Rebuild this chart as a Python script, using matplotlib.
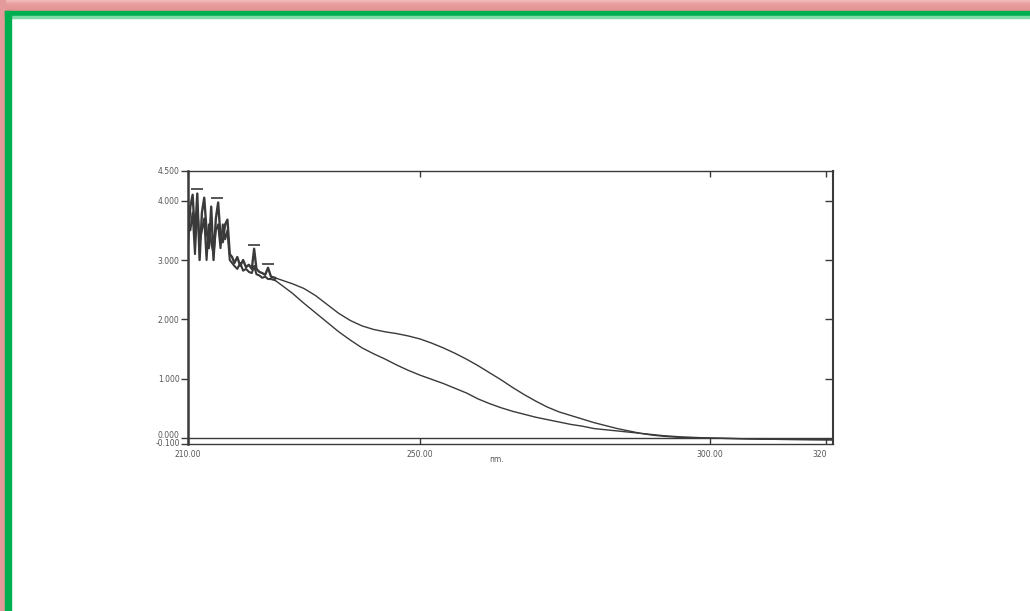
import matplotlib.pyplot as plt
from matplotlib.patches import Rectangle
from matplotlib.transforms import Bbox
import numpy as np

# two absorbance scans, nm vs abs
nm_noisy = [210.0, 210.4, 210.8, 211.2, 211.6, 212.0, 212.4, 212.8, 213.2, 213.6,
            214.0, 214.4, 214.8, 215.2, 215.6, 216.0, 216.4, 216.8, 217.2, 217.6,
            218.0, 218.5, 219.0, 219.5, 220.0, 220.5, 221.0, 221.4, 221.8, 222.3,
            222.8, 223.3, 223.8, 224.3, 225.0]
abs_a_noisy = [3.30, 3.90, 4.10, 3.40, 4.12, 3.00, 3.80, 4.05, 3.50, 3.20,
               3.90, 3.00, 3.70, 3.97, 3.40, 3.30, 3.60, 3.68, 3.10, 3.05,
               2.95, 3.05, 2.90, 3.00, 2.88, 2.92, 2.85, 3.19, 2.85, 2.80,
               2.78, 2.75, 2.87, 2.72, 2.70]
abs_b_noisy = [3.60, 3.50, 3.80, 3.10, 3.90, 3.30, 3.50, 3.70, 3.00, 3.60,
               3.30, 3.10, 3.50, 3.60, 3.20, 3.60, 3.35, 3.50, 3.00, 2.95,
               2.90, 2.85, 2.95, 2.82, 2.85, 2.80, 2.78, 2.90, 2.76, 2.74,
               2.70, 2.72, 2.68, 2.68, 2.66]

nm_smooth = [225.0, 228, 230, 232, 234, 236, 238, 240, 242, 244, 246, 248, 250,
             252, 254, 256, 258, 260, 262, 264, 266, 268, 270, 272, 274, 276,
             278, 280, 282, 284, 286, 288, 290, 292, 295, 300, 310, 321.2]
abs_a_smooth = [2.70, 2.60, 2.52, 2.40, 2.25, 2.10, 1.98, 1.89, 1.83, 1.79, 1.76,
                1.72, 1.67, 1.60, 1.52, 1.43, 1.33, 1.22, 1.10, 0.98, 0.85, 0.73,
                0.62, 0.52, 0.44, 0.38, 0.32, 0.26, 0.21, 0.16, 0.12, 0.08, 0.05,
                0.03, 0.01, 0.00, -0.02, -0.03]
abs_b_smooth = [2.66, 2.44, 2.27, 2.11, 1.95, 1.79, 1.65, 1.52, 1.42, 1.33, 1.23,
                1.14, 1.06, 0.99, 0.92, 0.84, 0.76, 0.66, 0.58, 0.51, 0.45, 0.40,
                0.35, 0.31, 0.27, 0.23, 0.20, 0.16, 0.14, 0.12, 0.10, 0.08, 0.06,
                0.04, 0.02, 0.00, -0.02, -0.03]

# picked peaks
peak_nm = [211.6, 215.0, 221.4, 223.8]
peak_abs = [4.12, 3.97, 3.19, 2.87]

ytick_vals = [-0.1, 0.0, 1.0, 2.0, 3.0, 4.0, 4.5]
ytick_labels = ['-0.100', '0.000', '1.000', '2.000', '3.000', '4.000', '4.500']
xtick_vals = [210, 250, 300, 320]
xtick_labels = ['210.00', '250.00', '300.00', '320.00']

ink = '#3a3a3a'
lbl = '#555555'

fig = plt.figure(figsize=(10.3, 6.11), dpi=100)
fig.patch.set_facecolor('white')

# slide frame: pink band with green rule
W, H = 1030.0, 611.0
pinks = ['#f0b8b8', '#eba6a6', '#e79c9c', '#e59696', '#e49393']
for i, c in enumerate(pinks):
    fig.patches.append(Rectangle((0, 1 - (i + 1) * 2.2 / H), 1, 2.2 / H,
                                 transform=fig.transFigure, color=c, zorder=0))
fig.patches.append(Rectangle((0, 0), 5 / W, 1, transform=fig.transFigure,
                             color='#e49a9a', zorder=0))
fig.patches.append(Rectangle((5 / W, 1 - 16.5 / H), 1, 5.5 / H,
                             transform=fig.transFigure, color='#00b050', zorder=1))
fig.patches.append(Rectangle((11 / W, 1 - 17.5 / H), 1, 1.2 / H,
                             transform=fig.transFigure, color='#7dd9a6', zorder=1))
fig.patches.append(Rectangle((5 / W, 0), 6 / W, 1 - 11 / H,
                             transform=fig.transFigure, color='#00b050', zorder=1))

ax = fig.add_axes([188 / W, 1 - 444 / H, 645 / W, 273 / H])
ax.set_xlim(210, 321.2)
ax.set_ylim(-0.1, 4.5)

# noisy short-wavelength end drawn heavier, as the recorder pen left it
ax.plot(nm_noisy, abs_a_noisy, color=ink, lw=1.7, zorder=3)
ax.plot(nm_noisy, abs_b_noisy, color=ink, lw=1.5, zorder=3)
ax.plot(nm_smooth, abs_a_smooth, color=ink, lw=1.0, zorder=3)
ax.plot(nm_smooth, abs_b_smooth, color=ink, lw=1.0, zorder=3)
ax.plot(peak_nm, np.array(peak_abs) + 0.07, ls='none', marker='_',
        ms=8, mew=1.2, color=ink, zorder=3)
ax.axhline(0.0, color=ink, lw=1.0, zorder=2)

for side in ['left', 'right', 'top', 'bottom']:
    ax.spines[side].set_color(ink)
ax.spines['left'].set_linewidth(1.8)
ax.spines['right'].set_linewidth(1.5)
ax.spines['top'].set_linewidth(1.0)
ax.spines['bottom'].set_linewidth(1.0)

ax.set_yticks(ytick_vals)
ax.set_yticklabels(ytick_labels)
ax.set_xticks(xtick_vals)
ax.set_xticklabels(xtick_labels)
ax.tick_params(axis='y', which='both', direction='out', length=5, width=1,
               color=ink, labelsize=5.5, labelcolor=lbl, pad=1, right=False)
ax.tick_params(axis='x', which='both', direction='in', length=4, width=1,
               color=ink, labelsize=5.5, labelcolor=lbl, pad=4, top=True)
ylabels = ax.get_yticklabels()
ylabels[0].set_va('center')
ylabels[1].set_va('baseline')

# inward ticks on the right frame
rax = ax.twinx()
rax.set_ylim(ax.get_ylim())
rax.set_yticks([1.0, 2.0, 3.0, 4.0])
rax.set_yticklabels([])
rax.tick_params(axis='y', direction='in', length=6, width=1, color=ink)
for s in rax.spines.values():
    s.set_visible(False)

ax.text(0.478, -0.055, 'nm.', transform=ax.transAxes, fontsize=5.5,
        color=lbl, ha='center', va='center')

# trailing label runs off the scanned page
fig.canvas.draw()
last = ax.get_xticklabels()[-1]
last.set_clip_box(Bbox.from_extents(0, 0, 826, H))
last.set_clip_on(True)

fig.savefig('out.png', dpi=100)
